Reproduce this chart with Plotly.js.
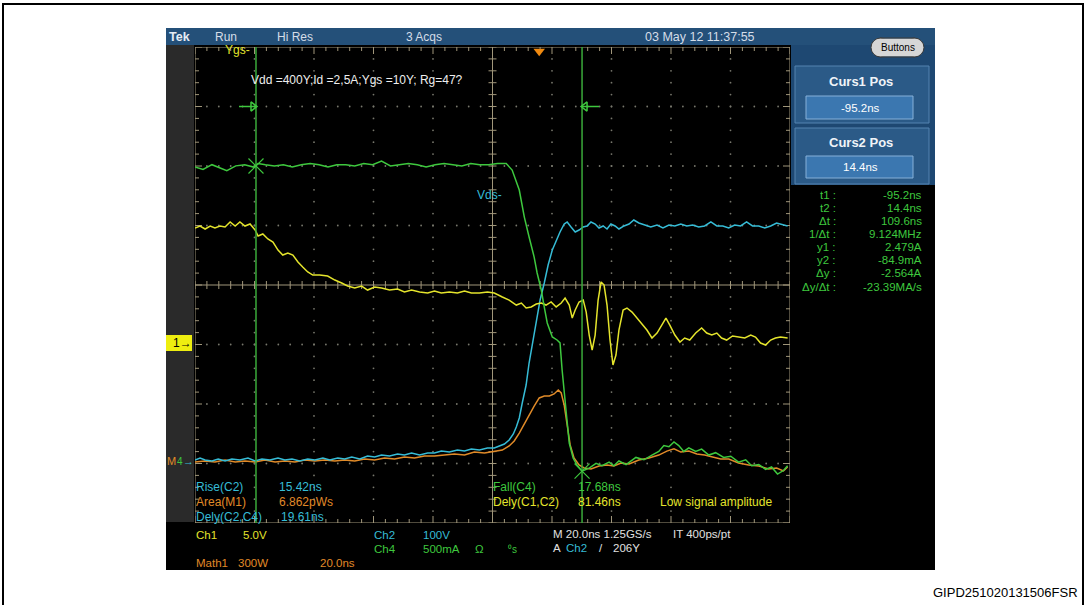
<!DOCTYPE html>
<html><head><meta charset="utf-8">
<script src="https://cdn.plot.ly/plotly-3.0.1.min.js"></script>
<style>html,body{margin:0;padding:0;background:#fff}#chart{width:1086px;height:605px}</style>
</head><body><div id="chart"></div>
<script>
// ---------------- DATA ----------------
// Ch4 drain current Id (A)
const idTime = [-115.7,-113,-110,-107,-105,-102,-99,-96,-94.5,-92,-89,-86,-83,-80,-77,-74,-71,-68,-65,-62,-59,-56,-53,-50,-47,-44,-41,-38,-35,-32,-29,-26,-23,-20,-17,-14,-11.1,-9.1,-6.7,-5.0,-3.4,-1.7,-0.7,0.7,1.7,2.7,4.4,6.0,7.0,7.7,9.1,10.1,11.4,12.7,14.4,16.8,19.1,21.1,23.5,25.1,26.8,29.2,32.5,35.2,37.9,40.2,41.9,43.6,45.3,46.9,48.6,50.3,52.6,54.6,57.0,59.3,62.0,64.4,67.0,69.4,71.4,73.8,76.1,78.1,80.1,82.1,83.5];
const idAmps = [2.47,2.45,2.49,2.46,2.44,2.48,2.49,2.47,2.50,2.49,2.48,2.49,2.47,2.49,2.50,2.49,2.47,2.49,2.49,2.48,2.50,2.49,2.52,2.48,2.49,2.50,2.49,2.47,2.49,2.50,2.49,2.48,2.50,2.49,2.49,2.50,2.50,2.445,2.277,2.050,1.882,1.714,1.580,1.437,1.294,1.160,1.042,1.017,0.992,0.765,0.403,0.151,0.025,-0.034,-0.085,-0.06,-0.02,-0.04,-0.01,-0.04,0.0,-0.03,0.03,0.01,0.05,0.08,0.13,0.12,0.16,0.13,0.08,0.11,0.08,0.10,0.05,0.07,0.03,0.04,-0.01,0.01,-0.04,-0.03,-0.07,-0.05,-0.11,-0.08,-0.04];
// Ch1 gate voltage Vgs (V)
const vgsTime = [-115.7,-114.0,-112.3,-110.6,-109.0,-107.3,-105.6,-103.9,-102.2,-100.6,-98.9,-97.2,-95.5,-94.5,-92.9,-91.2,-89.5,-87.8,-86.2,-84.5,-82.8,-81.1,-79.5,-77.8,-76.1,-73.8,-71.1,-68.7,-66.4,-64.4,-62.0,-59.7,-57.7,-55.3,-53.0,-50.3,-47.6,-45.3,-42.9,-40.2,-37.5,-35.2,-32.9,-30.2,-27.5,-25.1,-22.8,-20.1,-17.4,-15.1,-12.4,-10.1,-7.7,-6.0,-4.4,-2.7,-1.0,0.7,2.3,4.0,5.7,7.4,8.7,10.1,11.1,12.1,13.4,14.8,15.8,16.8,17.8,18.8,19.8,20.8,21.8,22.8,23.8,24.8,25.8,26.8,28.2,29.5,31.2,32.9,34.5,36.2,37.9,39.6,41.2,42.6,43.9,45.6,47.3,48.9,50.6,52.6,54.6,56.3,58.0,59.7,61.3,63.0,65.0,67.0,69.1,71.1,72.7,74.4,76.1,77.8,79.4,81.1,83.5];
const vgsVolts = [9.66,9.83,9.58,9.83,9.66,9.83,9.75,10.17,9.83,10.17,9.83,10.0,9.50,8.99,9.16,8.74,8.49,7.81,7.39,7.56,7.39,6.81,6.39,5.97,5.71,5.71,5.63,5.29,5.04,4.79,4.62,4.79,4.45,4.71,4.62,4.45,4.54,4.29,4.45,4.29,4.20,4.37,4.20,4.29,4.20,4.37,4.20,4.20,4.29,4.20,3.87,3.61,3.19,3.36,2.94,3.03,3.28,3.36,3.19,3.45,3.03,3.36,3.78,3.19,2.10,2.77,3.45,3.61,2.60,0.67,-0.59,0.67,3.61,5.13,4.87,3.19,0.25,-1.85,-1.01,1.09,2.77,2.94,2.60,2.10,1.68,1.09,0.42,0.84,1.51,2.10,1.51,0.67,0.08,0.42,0.25,0.84,1.26,0.84,0.67,0.84,0.42,0.25,0.59,0.50,0.42,0.67,0.50,0.0,-0.17,0.25,0.42,0.50,0.42];
// Ch2 drain-source voltage Vds (V)
const vdsTime = [-115.7,-114.0,-112.3,-110.0,-107.9,-105.6,-103.3,-100.6,-97.9,-95.5,-93.2,-90.5,-87.8,-85.5,-83.1,-80.5,-77.8,-75.4,-72.7,-70.4,-67.7,-65.4,-63.0,-60.3,-57.7,-55.3,-53.0,-50.3,-47.6,-45.3,-42.9,-40.2,-37.5,-35.2,-32.9,-30.2,-27.5,-25.1,-22.8,-20.1,-17.4,-15.1,-13.4,-11.7,-10.1,-8.7,-7.7,-6.7,-5.7,-4.4,-3.4,-2.3,-1.0,0.3,1.7,3.0,4.4,5.7,7.0,8.4,9.4,10.7,12.1,13.4,14.8,16.1,17.4,18.8,20.1,21.5,22.8,24.1,25.5,26.8,28.5,30.2,31.8,33.5,35.5,37.5,39.6,41.6,43.6,45.6,47.6,49.6,51.6,53.6,55.6,57.7,59.7,61.7,63.7,65.7,67.7,69.7,71.7,73.8,75.8,77.8,79.8,81.8,83.5];
const vdsVolts = [1.7,5.0,1.7,0,3.4,0,3.4,1.7,5.0,0,3.4,1.7,5.0,1.7,3.4,0,3.4,1.7,5.0,1.7,5.0,3.4,6.7,3.4,8.4,6.7,10.1,8.4,11.8,10.1,13.4,10.1,13.4,13.4,16.8,15.1,18.5,16.8,20.2,18.5,21.8,21.8,25.2,28.6,35.3,45.4,57.1,72.3,97.5,127.7,164.7,198.3,231.9,270.6,299.2,329.4,354.6,371.4,384.9,398.3,401.7,393.3,384.9,388.2,393.3,395.0,401.7,398.3,391.6,395.0,389.9,398.3,395.0,389.9,395.0,398.3,405.0,400.0,396.6,393.3,396.6,391.6,396.6,395.0,398.3,395.0,396.6,393.3,395.0,401.7,395.0,395.0,391.6,396.6,395.0,401.7,395.0,395.0,391.6,395.0,400.0,396.6,395.0];
// Math1 power (W)
const pTime = [-115.7,-112.3,-109.0,-105.6,-102.2,-98.9,-95.5,-92.2,-88.8,-85.5,-82.1,-78.8,-75.4,-72.1,-68.7,-65.4,-62.0,-58.7,-55.3,-52.0,-48.6,-45.3,-41.9,-38.6,-35.2,-31.8,-28.5,-25.1,-21.8,-18.4,-15.1,-12.4,-10.1,-8.4,-6.7,-5.0,-3.4,-1.7,0,1.7,3.4,5.0,6.4,7.4,8.4,9.4,10.4,11.7,13.4,15.1,17.4,20.1,22.8,25.1,27.5,30.2,33.5,36.9,40.2,42.9,45.3,47.6,50.3,53.0,55.6,58.3,61.0,63.7,67.0,70.4,73.8,77.1,79.8,82.1,83.5];
const pWatts = [-5,0,-5,5,-5,0,-5,5,-5,0,-5,5,0,5,0,5,0,10,5,15,10,20,15,25,25,30,35,30,45,40,50,55,76,101,141,187,237,277,318,328,328,338,358,343,282,182,81,15,-20,-35,-40,-25,-20,-25,-10,-15,5,15,30,50,61,45,50,35,30,20,10,10,-10,-20,-25,-40,-35,-50,-30];
// cursors
const cursorTimes = [-95.2, 14.4];
const cursorAmps = [2.479, -0.0849];
// readout texts
const readLabels = ["t1 :","t2 :","\u0394t :","1/\u0394t :","y1 :","y2 :","\u0394y :","\u0394y/\u0394t :"];
const readValues = ["-95.2ns","14.4ns","109.6ns","9.124MHz","2.479A","-84.9mA","-2.564A","-23.39MA/s"];

// ---------------- channel settings ----------------
const SCALE = {ch1:5, ch2:100, ch4:0.5, m1:300};   // units per division
const GND = {ch1:-0.975, ch2:-2.958, ch4:-2.958, m1:-2.958}; // ground position in divisions
const toDiv = (arr, ch) => arr.map(v => v/SCALE[ch] + GND[ch]);
const T0 = -115.7, TSPAN = 200; // 20 ns/div, 10 divisions

// ---------------- geometry helpers ----------------
const L=195, R=790, T=47, B=523;
const px = x => (x-L)/(R-L);
const py = y => (B-y)/(B-T);
const onePx = 10/(R-L);
const nsPx = TSPAN/(R-L);

// graticule
const gx=[], gy=[];
function seg(x0,y0,x1,y1){gx.push(x0,x1,null);gy.push(y0,y1,null);}
seg(-5,-4,5,-4); seg(5,-4,5,4); seg(5,4,-5,4); seg(-5,4,-5,-4);
seg(-5,0,5,0); seg(0,-4,0,4);
for(let i=-25;i<=25;i++){
  const x=i/5, l=(i%5===0?7:4)*onePx, lc=4*onePx;
  seg(x,-lc,x,lc); seg(x,4,x,4-l); seg(x,-4,x,-4+l);
}
for(let j=-20;j<=20;j++){
  const y=j/5, l=(j%5===0?7:4)*onePx, lc=4*onePx;
  seg(-lc,y,lc,y); seg(-5,y,-5+l,y); seg(5,y,5-l,y);
}
const dx=[], dy=[];
for(let k=-4;k<=4;k++){ if(k===0) continue;
  for(let j=-19;j<=19;j++){ dx.push(k); dy.push(j/5); }
}
for(let k=-3;k<=3;k++){ if(k===0) continue;
  for(let i=-24;i<=24;i++){ dx.push(i/5); dy.push(k); }
}

const YEL='#e4e42c', CYA='#36bcd6', GRN='#3ec83e', ORA='#e08a28', GRAT='#a0967a';

// cursor pointer arrows (at the 3rd division above centre)
const c1=cursorTimes[0], c2=cursorTimes[1];
const arrX=[c1-17*nsPx,c1,null,c2+17*nsPx,c2];
const arrY=[3,3,null,3,3];

const traces = [
  {x:dx,y:dy,mode:'markers',marker:{size:1.8,color:'#77776c'},xaxis:'x',yaxis:'y',hoverinfo:'skip'},
  {x:gx,y:gy,mode:'lines',line:{color:GRAT,width:1},xaxis:'x',yaxis:'y',hoverinfo:'skip'},
  {x:pTime,y:toDiv(pWatts,'m1'),mode:'lines',line:{color:ORA,width:1.5},xaxis:'x2',yaxis:'y'},
  {x:vdsTime,y:toDiv(vdsVolts,'ch2'),mode:'lines',line:{color:CYA,width:1.5},xaxis:'x2',yaxis:'y'},
  {x:vgsTime,y:toDiv(vgsVolts,'ch1'),mode:'lines',line:{color:YEL,width:1.5},xaxis:'x2',yaxis:'y'},
  {x:idTime,y:toDiv(idAmps,'ch4'),mode:'lines',line:{color:GRN,width:1.5},xaxis:'x2',yaxis:'y'},
  {x:[c1,c1,null,c2,c2],y:[-4,4,null,-4,4],mode:'lines',line:{color:'#3aaa3a',width:1.5},xaxis:'x2',yaxis:'y'},
  {x:arrX,y:arrY,mode:'lines',line:{color:GRN,width:1.5},xaxis:'x2',yaxis:'y'},
  {x:[c1-3*nsPx,c2+3*nsPx],y:[3,3],mode:'markers',marker:{symbol:['triangle-right-open','triangle-left-open'],size:8,color:GRN,line:{color:GRN,width:1.5}},xaxis:'x2',yaxis:'y'},
  {x:cursorTimes,y:toDiv(cursorAmps,'ch4'),mode:'markers',marker:{symbol:'x-thin-open',size:15,color:GRN,line:{color:GRN,width:1.2}},xaxis:'x2',yaxis:'y'},
  {x:[0],y:[3.93],mode:'markers',marker:{symbol:'triangle-down',size:10,color:'#f08a10'},xaxis:'x2',yaxis:'y',cliponaxis:false}
];

function rect(x0,y0,x1,y1,fill,line,lw){return {type:'rect',xref:'paper',yref:'paper',x0:px(x0),x1:px(x1),y0:py(y0),y1:py(y1),fillcolor:fill,line:{color:line||'rgba(0,0,0,0)',width:lw||(line?1:0)},layer:'below'};}
function circ(x0,y0,x1,y1,fill,line){return {type:'circle',xref:'paper',yref:'paper',x0:px(x0),x1:px(x1),y0:py(y0),y1:py(y1),fillcolor:fill,line:{color:line,width:1},layer:'below'};}
function ln(x0,y0,x1,y1,c){return {type:'line',xref:'paper',yref:'paper',x0:px(x0),x1:px(x1),y0:py(y0),y1:py(y1),line:{color:c,width:1},layer:'below'};}

const shapes = [
  {type:'rect',xref:'paper',yref:'paper',x0:px(3),x1:px(1083),y0:py(4),y1:py(640),line:{color:'#000',width:2},fillcolor:'rgba(0,0,0,0)',layer:'below'},
  rect(166,28,935,570,'#000'),
  rect(166,28,935,45,'#245079'),
  rect(791,45,935,185,'#1e4872'),
  rect(795,66,929,123,'#2b5a87','#5483b0'),
  rect(806,96,913,119,'#3b77b0','#86b0d8'),
  rect(795,128,929,184,'#2b5a87','#5483b0'),
  rect(806,156,913,178,'#3b77b0','#86b0d8'),
  circ(871,38,890,57,'#d6d6d6','#3a3a3a'),
  circ(905,38,924,57,'#d6d6d6','#3a3a3a'),
  rect(880,38.5,915,56.5,'#d6d6d6'),
  ln(880,38,915,38,'#3a3a3a'), ln(880,57,915,57,'#3a3a3a'),
  rect(166,45,194,522,'#2a2a2a'),
  rect(166,335,192,351,'#eeee10')
];

const F = 'Liberation Sans, Arial, sans-serif';
function txt(s,x,y,color,size,opt){
  opt=opt||{};
  return Object.assign({text:s,xref:'paper',yref:'paper',x:px(x),y:py(y),showarrow:false,
    xanchor:'left',yanchor:'middle',font:{family:F,size:size||12,color:color}},opt);
}
const TB='#d4dde8', WH='#e0e0e0';
const ann = [
  txt('<b>Tek</b>',167,37,'#e6edf5',12.5),
  txt('Run',213,37,TB,12),
  txt('Hi Res',275,37,TB,12),
  txt('3 Acqs',404,37,TB,12),
  txt('03 May 12 11:37:55',643,37,TB,12.5),
  txt('Buttons',898,47.5,'#000',10,{xanchor:'center'}),
  txt('<b>Curs1 Pos</b>',861,82,'#f0f4f8',13,{xanchor:'center'}),
  txt(readValues[0],860,107.5,'#fff',11.5,{xanchor:'center'}),
  txt('<b>Curs2 Pos</b>',861,143,'#f0f4f8',13,{xanchor:'center'}),
  txt(readValues[1],860,167,'#fff',11.5,{xanchor:'center'}),
  txt('Ygs-',223,50,YEL,12),
  txt('Vdd =400Y;Id =2,5A;Ygs =10Y; Rg=47?',249,80,'#eeeeee',12),
  txt('Vds-',475,195,CYA,12),
  txt('Rise(C2)',194,487,CYA), txt('15.42ns',277,487,CYA),
  txt('Area(M1)',194,502,ORA), txt('6.862pWs',277,502,ORA),
  txt('Dely(C2,C4)',194,517,CYA), txt('19.61ns',279,517,CYA),
  txt('Fall(C4)',491,487,GRN), txt('17.68ns',576,487,GRN),
  txt('Dely(C1,C2)',491,502,YEL), txt('81.46ns',576,502,YEL),
  txt('Low signal amplitude',658,502,YEL),
  txt('Ch1',194,535,YEL,11.5), txt('5.0V',241,535,YEL,11.5),
  txt('Ch2',372,535,CYA,11.5), txt('100V',421,535,CYA,11.5),
  txt('Ch4',372,549,GRN,11.5), txt('500mA',421,549,GRN,11.5), txt('\u03a9',473,549,GRN,11.5),
  txt('\u2070s',506,549,GRN,10),
  txt('Math1',194,563,ORA,11.5), txt('300W',236,563,ORA,11.5), txt('20.0ns',318,563,ORA,11.5),
  txt('M 20.0ns 1.25GS/s',551,534,WH,11.5), txt('IT 400ps/pt',671,534,WH,11.5),
  txt('A',551,548,WH,11.5), txt('Ch2',564,548,CYA,11.5), txt('/',597,548,WH,11.5), txt('206Y',611,548,WH,11.5),
  txt('1\u2192',171,343,'#000',12),
  txt('M',165,461,ORA,11),
  txt('4',175,461,GRN,10),
  txt('\u2192',181,461,CYA,11),
  txt('GIPD251020131506FSR',1080,592,'#000',13,{xanchor:'right'})
];
readLabels.forEach((s,i)=>{
  const y=[195,208,221,234,247,260,273,287][i];
  ann.push(txt(s,838,y,GRN,11.5,{xanchor:'right'}));
  ann.push(txt(readValues[i],924,y,GRN,11.5,{xanchor:'right'}));
});

const layout = {
  width:1086,height:605,
  margin:{l:L,r:1086-R,t:T,b:605-B,pad:0},
  paper_bgcolor:'#ffffff', plot_bgcolor:'#000000',
  showlegend:false,
  xaxis:{range:[-5,5],visible:false,fixedrange:true},
  xaxis2:{range:[T0,T0+TSPAN],overlaying:'x',visible:false,fixedrange:true},
  yaxis:{range:[-4,4],visible:false,fixedrange:true},
  shapes:shapes, annotations:ann,
  font:{family:F}
};
Plotly.newPlot('chart',traces,layout,{displayModeBar:false,staticPlot:true});
</script></body></html>
